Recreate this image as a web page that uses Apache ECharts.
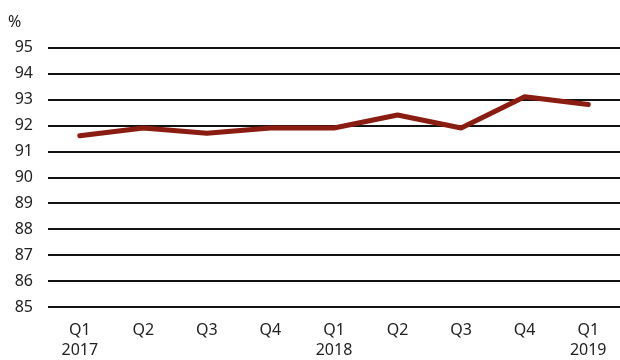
<!DOCTYPE html>
<html><head><meta charset="utf-8">
<script src="https://cdn.jsdelivr.net/npm/echarts@6/dist/echarts.min.js"></script>
<style>html,body{margin:0;padding:0;background:#fff}#c{width:620px;height:360px}</style>
</head><body><div id="c"></div>
<script>
const categories = ['Q1\n2017','Q2','Q3','Q4','Q1\n2018','Q2','Q3','Q4','Q1\n2019'];
const values = [91.6, 91.9, 91.7, 91.9, 91.9, 92.4, 91.9, 93.1, 92.8];
const yMin = 85, yMax = 95, yStep = 1;
const unitLabel = '%';

const chart = echarts.init(document.getElementById('c'), null, {renderer:'canvas'});
chart.setOption({
  animation:false,
  backgroundColor:'#fff',
  grid:{left:48, right:-3, top:47.5, bottom:50, containLabel:false},
  graphic:[{type:'text', left:8, top:14, style:{text:unitLabel, font:'16px "Noto Sans"', fill:'#222'}}],
  xAxis:{type:'category', data:categories, boundaryGap:true,
    axisLine:{show:false}, axisTick:{show:false},
    axisLabel:{color:'#222', fontFamily:'Noto Sans', fontSize:16, lineHeight:20, margin:13, interval:0}},
  yAxis:{type:'value', min:yMin, max:yMax, interval:yStep,
    axisLine:{show:false}, axisTick:{show:false},
    axisLabel:{color:'#222', fontFamily:'Noto Sans', fontSize:16, margin:15},
    splitLine:{lineStyle:{color:'#111', width:2}}},
  series:[{type:'line', data:values, symbol:'none', smooth:false,
    lineStyle:{color:'#8a1c12', width:5, cap:'round', join:'round'}}]
});
</script></body></html>
